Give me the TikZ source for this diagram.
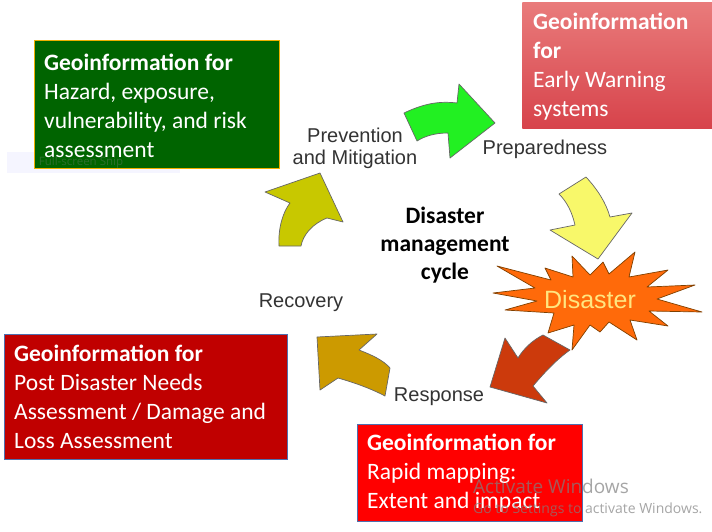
\documentclass[tikz,border=0pt]{standalone}
\usepackage{fontspec}
\setmainfont{Carlito}
\newfontfamily\arialf{Liberation Sans}
\newfontfamily\winf{Open Sans}
\usetikzlibrary{calc}
\definecolor{gbox}{HTML}{006400}
\definecolor{gborder}{HTML}{F0B000}
\definecolor{pbox}{HTML}{C00000}
\definecolor{rbox}{HTML}{FF0000}
\definecolor{bborder}{HTML}{4F6FAF}
\definecolor{ewtop}{HTML}{E97B7B}
\definecolor{ewbot}{HTML}{D7434B}
\definecolor{agreen}{HTML}{22F022}
\definecolor{ayellow}{HTML}{F8F86A}
\definecolor{aresp}{HTML}{CC3A0C}
\definecolor{arec}{HTML}{CC9A00}
\definecolor{aprev}{HTML}{C8C800}
\definecolor{starfill}{HTML}{FF6A0A}
\definecolor{startext}{HTML}{FFE680}
\definecolor{lbl}{HTML}{333333}
\begin{document}
\begin{tikzpicture}[x=1pt,y=-1pt,
  geobox/.style={rectangle, inner sep=0pt, anchor=north west, line width=0.8pt},
  geotext/.style={inner sep=0pt, align=left, text=white, anchor=west,
    font=\fontsize{23.5}{29}\selectfont},
  cyc/.style={font=\arialf\fontsize{20}{22}\selectfont, text=lbl, inner sep=0pt},
  blockarrow/.style={draw=black!60, line width=0.7pt, line join=round},
  wmark/.style={text=gray, opacity=0.7, inner sep=0pt, anchor=base west}]
\useasboundingbox (0,0) rectangle (712,531);
\fill[white] (0,0) rectangle (712,531);

% snip artefact (behind)
\fill[blue!4] (7,152) rectangle (180,173);

% information boxes
\node[geobox, fill=gbox, draw=gborder, minimum width=245pt, minimum height=128pt] (hz) at (34,40) {};
\node[geotext] (hzt) at ($(hz.west)+(10,1)$)
  {\textbf{Geoinformation for}\\Hazard, exposure,\\vulnerability, and risk\\assessment};
\node[geobox, top color=ewtop, bottom color=ewbot, minimum width=190pt, minimum height=126pt] (ew) at (522,2) {};
\node[geotext] (ewt) at ($(ew.west)+(11,1)$)
  {\textbf{Geoinformation}\\\textbf{for}\\Early Warning\\systems};
\node[geobox, fill=pbox, draw=bborder, minimum width=283pt, minimum height=125pt] (pd) at (4,334) {};
\node[geotext] (pdt) at ($(pd.west)+(10,0)$)
  {\textbf{Geoinformation for}\\Post Disaster Needs\\Assessment / Damage and\\Loss Assessment};
\node[geobox, fill=rbox, draw=bborder, minimum width=225pt, minimum height=97pt] (rm) at (357,424) {};
\node[geotext] (rmt) at ($(rm.west)+(10,0)$)
  {\textbf{Geoinformation for}\\Rapid mapping:\\Extent and impact};

\node[font=\winf\fontsize{11.5}{13}\selectfont, text=gray, opacity=0.35, inner sep=0pt] (snip) at (81,163) {Full-screen Snip};

% cycle arrows
\draw[blockarrow, fill=agreen] (404,113) .. controls (425,103) and (440,101) .. (457,103)
  -- (459,84) -- (495,123) -- (450,158) -- (448,133)
  .. controls (435,133) and (425,136) .. (417,141) -- cycle;
\draw[blockarrow, fill=ayellow] (559,194) -- (586,177) .. controls (598,190) and (606,203) .. (610,217)
  -- (632,213) -- (598,259) -- (550,230) -- (575,225)
  .. controls (572,212) and (567,202) .. (559,194) -- cycle;
\draw[blockarrow, fill=starfill, draw=black!50!orange]
  (493,293) -- (535,288) -- (497,266) -- (551,280) -- (545,268) -- (573,277) -- (572,256)
  -- (590,275) -- (603,262) -- (609,274) -- (635,252) -- (629,277) -- (668,270) -- (647,287)
  -- (695,285) -- (657,299) -- (702,312) -- (649,311) -- (668,326) -- (630,320) -- (637,340)
  -- (609,322) -- (600,332) -- (590,325) -- (572,350) -- (574,325) -- (548,333) -- (554,313)
  -- (505,310) -- (537,301) -- cycle;
\draw[blockarrow, fill=aresp] (543,335) .. controls (533,340) and (524,348) .. (518,358)
  -- (505,338) -- (490,387) -- (547,403) -- (533,386)
  .. controls (545,372) and (556,360) .. (570,350) -- cycle;
\draw[blockarrow, fill=arec] (317,337) -- (377,334) -- (359,350)
  .. controls (372,355) and (383,360) .. (390,368) -- (385,396)
  .. controls (370,388) and (352,382) .. (338,378) -- (320,390) -- cycle;
\draw[blockarrow, fill=aprev] (320,173) -- (343,222) -- (327,218)
  .. controls (312,224) and (303,235) .. (301,246) -- (279,246)
  .. controls (278,228) and (283,212) .. (290,203) -- (265,192) -- cycle;

% labels
\node[font=\arialf\fontsize{25}{27}\selectfont, text=startext, inner sep=0pt] (dis) at (590,300) {Disaster};
\node[cyc, align=center] (prev) at (355,148) {Prevention\\and Mitigation};
\node[cyc, anchor=base] (prep) at (545,154) {Preparedness};
\node[cyc, anchor=base] (rec) at (301,307) {Recovery};
\node[cyc, anchor=base] (resp) at (439,401) {Response};
\node[font=\bfseries\fontsize{23.5}{28}\selectfont, align=center, inner sep=0pt] (dmc) at (445,245)
  {Disaster\\management\\cycle};

% watermark
\node[wmark, font=\winf\fontsize{19}{21}\selectfont] (act) at (473,493) {Activate Windows};
\node[wmark, font=\winf\fontsize{14}{16}\selectfont] (go) at (473,513) {Go to Settings to activate Windows.};
\end{tikzpicture}
\end{document}
